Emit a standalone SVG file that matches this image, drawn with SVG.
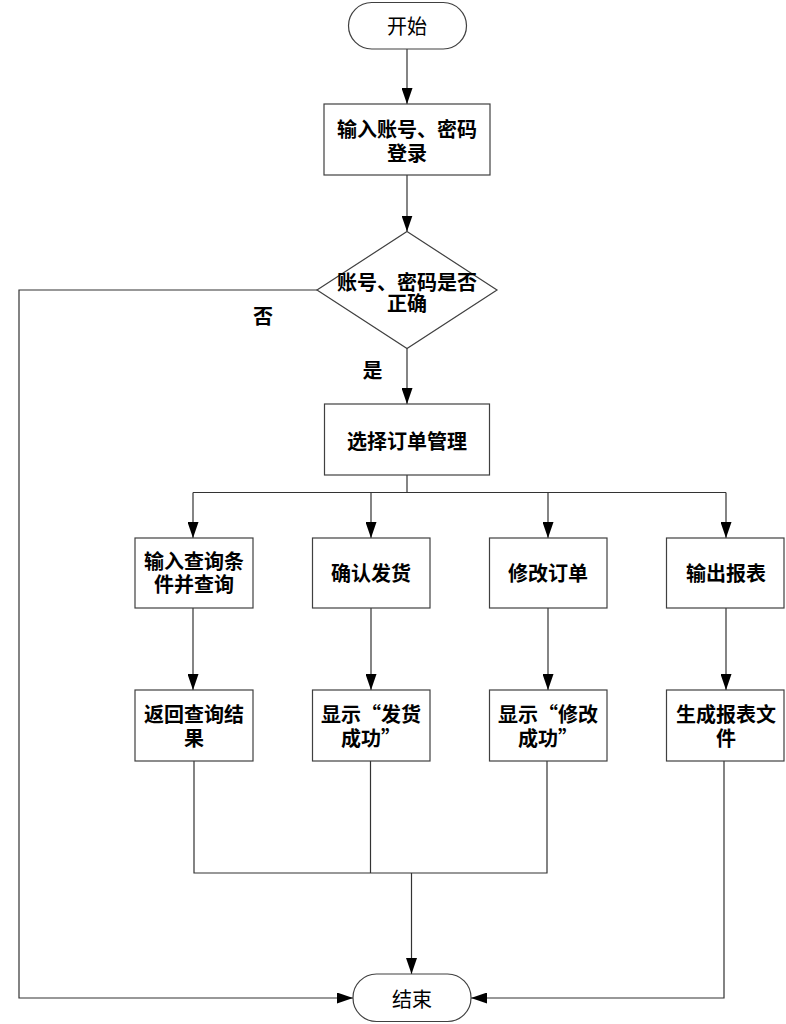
<svg xmlns="http://www.w3.org/2000/svg" width="786" height="1024" viewBox="0 0 786 1024">
<style>
.box{fill:#fff;stroke:#404040;stroke-width:1.2}
.ln{fill:none;stroke:#333;stroke-width:1.2}
text{font-family:"Noto Sans CJK SC","Noto Sans",sans-serif;font-size:20px;font-weight:bold;fill:#000;text-anchor:middle;dominant-baseline:central}
.reg{font-weight:normal}
</style>
<defs>
<marker id="ah" markerUnits="userSpaceOnUse" markerWidth="16" markerHeight="11" refX="16" refY="5.5" orient="auto">
<path d="M0,0 L16,5.5 L0,11 z" fill="#000"/>
</marker>
</defs>
<rect width="786" height="1024" fill="#fff"/>
<g id="connectors">
<line class="ln" x1="407" y1="49" x2="407" y2="104" marker-end="url(#ah)"/>
<line class="ln" x1="407" y1="175" x2="407" y2="231.5" marker-end="url(#ah)"/>
<line class="ln" x1="407" y1="348" x2="407" y2="404" marker-end="url(#ah)"/>
<polyline class="ln" points="317,290 19,290 19,998 353,998" marker-end="url(#ah)"/>
<line class="ln" x1="407" y1="475" x2="407" y2="492.5"/>
<line class="ln" x1="193" y1="492.5" x2="726" y2="492.5"/>
<line class="ln" x1="193" y1="492.5" x2="193" y2="538" marker-end="url(#ah)"/>
<line class="ln" x1="371" y1="492.5" x2="371" y2="538" marker-end="url(#ah)"/>
<line class="ln" x1="548" y1="492.5" x2="548" y2="538" marker-end="url(#ah)"/>
<line class="ln" x1="726" y1="492.5" x2="726" y2="538" marker-end="url(#ah)"/>
<line class="ln" x1="193" y1="608" x2="193" y2="690" marker-end="url(#ah)"/>
<line class="ln" x1="371" y1="608" x2="371" y2="690" marker-end="url(#ah)"/>
<line class="ln" x1="548" y1="608" x2="548" y2="690" marker-end="url(#ah)"/>
<line class="ln" x1="726" y1="608" x2="726" y2="690" marker-end="url(#ah)"/>
<polyline class="ln" points="194,761 194,873 547,873 547,761"/>
<line class="ln" x1="370.5" y1="761" x2="370.5" y2="873"/>
<line class="ln" x1="411.5" y1="873" x2="411.5" y2="974" marker-end="url(#ah)"/>
<polyline class="ln" points="724,761 724,998 471,998" marker-end="url(#ah)"/>
<text x="263" y="315">否</text>
<text x="372.5" y="369">是</text>
</g>
<g id="start">
<rect class="box" x="348.5" y="2.5" width="118" height="46.5" rx="23.25"/>
<text class="reg" x="407" y="25.5">开始</text>
</g>
<g id="login">
<rect class="box" x="324" y="104" width="166" height="71"/>
<text x="407" y="128">输入账号、密码</text>
<text x="407" y="152">登录</text>
</g>
<g id="check">
<polygon class="box" points="407,231.5 497,290 407,348.5 317,290"/>
<text x="407" y="281.5">账号、密码是否</text>
<text x="407" y="302.5">正确</text>
</g>
<g id="order">
<rect class="box" x="324.5" y="404" width="165" height="71"/>
<text x="407" y="440">选择订单管理</text>
</g>
<g id="query">
<rect class="box" x="135" y="538" width="118" height="70"/>
<text x="194" y="560.5">输入查询条</text>
<text x="194" y="583">件并查询</text>
</g>
<g id="ship">
<rect class="box" x="312.5" y="538" width="117.5" height="70"/>
<text x="371" y="572">确认发货</text>
</g>
<g id="modify">
<rect class="box" x="489.5" y="538" width="117.5" height="70"/>
<text x="548" y="572">修改订单</text>
</g>
<g id="report">
<rect class="box" x="666.5" y="538" width="117.5" height="70"/>
<text x="726" y="572">输出报表</text>
</g>
<g id="result">
<rect class="box" x="135" y="690" width="118" height="71"/>
<text x="194" y="713">返回查询结</text>
<text x="194" y="737">果</text>
</g>
<g id="shipok">
<rect class="box" x="312.5" y="690" width="117.5" height="71"/>
<text x="371" y="713">显示“发货</text>
<text x="371" y="737">成功”</text>
</g>
<g id="modok">
<rect class="box" x="489.5" y="690" width="117.5" height="71"/>
<text x="548" y="713">显示“修改</text>
<text x="548" y="737">成功”</text>
</g>
<g id="file">
<rect class="box" x="666.5" y="690" width="117.5" height="71"/>
<text x="726" y="713">生成报表文</text>
<text x="726" y="737">件</text>
</g>
<g id="end">
<rect class="box" x="353" y="974" width="118" height="47.5" rx="23.5"/>
<text class="reg" x="412" y="998">结束</text>
</g>
</svg>
